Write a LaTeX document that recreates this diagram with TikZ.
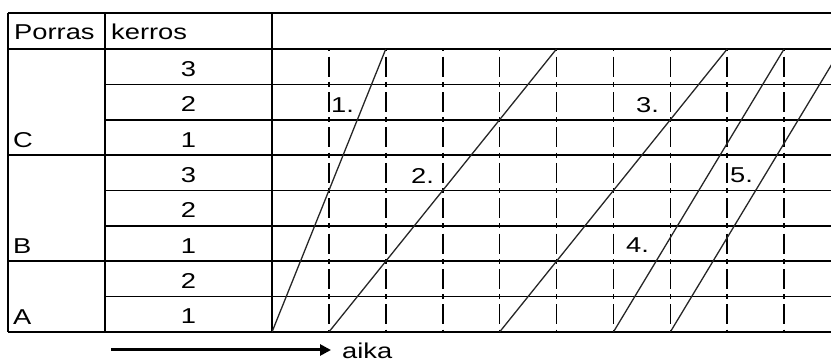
\documentclass[tikz,border=0pt]{standalone}
\usepackage{fontspec}
\setmainfont{Liberation Sans}[FakeStretch=1.27]
\usetikzlibrary{arrows.meta}
\begin{document}
\begin{tikzpicture}[x=1pt,y=-1pt,
  gridline/.style={line width=1.6pt, black},
  tickline/.style={line width=1.6pt, black, dash pattern=on 5pt off 5.2pt on 20pt off 5.2pt, dash phase=2.5pt},
  slant/.style={line width=1.3pt, black!85},
  lbl/.style={inner sep=0pt, font=\fontsize{21.5}{25}\selectfont, anchor=base west},
  num/.style={inner sep=0pt, font=\fontsize{21.5}{25}\selectfont, anchor=base},
  arrowline/.style={line width=3pt, -{Triangle[length=11pt,width=11pt]}}]
\useasboundingbox (0,0) rectangle (831,363);
% table frame
\draw[gridline] (8,13) -- (831,13);
\draw[gridline] (8,49) -- (831,49);
\foreach \k in {1,2,4,5,7} {\draw[gridline] (105,49+35.375*\k) -- (831,49+35.375*\k);}
\foreach \k in {3,6,8} {\draw[gridline] (8,49+35.375*\k) -- (831,49+35.375*\k);}
\draw[gridline] (8,13) -- (8,332);
\draw[gridline] (105,13) -- (105,332);
\draw[gridline] (272,13) -- (272,332);
% dash-dot time lines
\foreach \k in {1,...,9} {\draw[tickline] (272+56.9*\k,49) -- (272+56.9*\k,332);}
% slanted lines
\coordinate (s1a) at (272,332);   \coordinate (s1b) at (385.8,49);
\coordinate (s2a) at (328.9,332); \coordinate (s2b) at (556.5,49);
\coordinate (s3a) at (499.6,332); \coordinate (s3b) at (727.2,49);
\coordinate (s4a) at (613.4,332); \coordinate (s4b) at (784.1,49);
\coordinate (s5a) at (670.3,332); \coordinate (s5b) at (841,49);
\begin{scope}
\clip (272,49) rectangle (831,332);
\draw[slant] (s1a) -- (s1b);
\draw[slant] (s2a) -- (s2b);
\draw[slant] (s3a) -- (s3b);
\draw[slant] (s4a) -- (s4b);
\draw[slant] (s5a) -- (s5b);
\end{scope}
% header
\node[lbl] (porras) at (14,40) {Porras};
\node[lbl] (kerros) at (111,40) {kerros};
% row numbers
\node[num] (r1) at (188.5,76.4) {3};
\node[num] (r2) at (188.5,111.8) {2};
\node[num] (r3) at (188.5,147.1) {1};
\node[num] (r4) at (188.5,182.5) {3};
\node[num] (r5) at (188.5,217.9) {2};
\node[num] (r6) at (188.5,253.3) {1};
\node[num] (r7) at (188.5,288.6) {2};
\node[num] (r8) at (188.5,324) {1};
% group letters
\node[lbl] (gc) at (13,147.6) {C};
\node[lbl] (gb) at (13,253.8) {B};
\node[lbl] (ga) at (13,324.5) {A};
% line labels
\node[lbl] (l1) at (331,113) {1.};
\node[lbl] (l2) at (411,184) {2.};
\node[lbl] (l3) at (636,113) {3.};
\node[lbl] (l4) at (626,253) {4.};
\node[lbl] (l5) at (730,183) {5.};
% time arrow
\coordinate (arrS) at (111,350);
\coordinate (arrE) at (331,350);
\draw[arrowline] (arrS) -- (arrE);
\node[lbl] (aika) at (342,358.5) {aika};
\end{tikzpicture}
\end{document}
